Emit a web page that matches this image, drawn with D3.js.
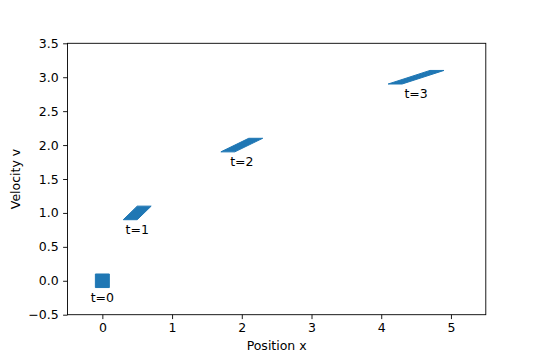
<!DOCTYPE html>
<html>
<head>
<meta charset="utf-8">
<script src="https://cdn.jsdelivr.net/npm/d3@7"></script>
<style>
  html, body { margin: 0; padding: 0; background: #fff; }
  svg { display: block; font-family: "DejaVu Sans", sans-serif; }
</style>
</head>
<body>
<svg id="chart" width="540" height="360"></svg>
<script>
// ---- data ----
const times = [0, 1, 2, 3];
const labels = ["t=0", "t=1", "t=2", "t=3"];
// polygon corners (position x, velocity v) for each time
const polyX = [
  [-0.1, 0.1, 0.1, -0.1],
  [0.3, 0.5, 0.7, 0.5],
  [1.7, 1.9, 2.3, 2.1],
  [4.1, 4.3, 4.9, 4.7]
];
const polyV = [
  [-0.1, -0.1, 0.1, 0.1],
  [0.9, 0.9, 1.1, 1.1],
  [1.9, 1.9, 2.1, 2.1],
  [2.9, 2.9, 3.1, 3.1]
];
const centerX = [0, 0.5, 2, 4.5];
const centerV = [0, 1, 2, 3];
const xTicks = [0, 1, 2, 3, 4, 5];
const yTicks = [-0.5, 0.0, 0.5, 1.0, 1.5, 2.0, 2.5, 3.0, 3.5];

// ---- layout ----
const mLeft = 67.5, mRight = 485.8, mTop = 43.3, mBottom = 314.7;
const svg = d3.select("#chart");
const x = d3.scaleLinear().domain([-0.5, 5.5]).range([mLeft, mRight]);
const y = d3.scaleLinear().domain([-0.5, 3.5]).range([mBottom, mTop]);

// polygons
const g = svg.append("g");
times.forEach((t, i) => {
  const pts = polyX[i].map((px, j) => [x(px), y(polyV[i][j])]);
  g.append("polygon")
    .attr("points", pts.map(p => p.join(",")).join(" "))
    .attr("fill", "#1f77b4")
    .attr("stroke", "#1f77b4")
    .attr("stroke-width", 1);
  g.append("text")
    .attr("x", x(centerX[i]))
    .attr("y", y(centerV[i] - 0.31))
    .attr("text-anchor", "middle")
    .attr("font-size", "12.5px")
    .attr("fill", "#000")
    .text(labels[i]);
});

// axes
const fmtY = d => d3.format(".1f")(d).replace("-", "\u2212");
const xAxis = d3.axisBottom(x).tickValues(xTicks).tickFormat(d3.format("d"))
  .tickSizeInner(4.4).tickSizeOuter(0).tickPadding(4.4);
const yAxis = d3.axisLeft(y).tickValues(yTicks).tickFormat(fmtY)
  .tickSizeInner(4.4).tickSizeOuter(0).tickPadding(4.4);

const gx = svg.append("g").attr("transform", `translate(0,${mBottom})`).call(xAxis);
const gy = svg.append("g").attr("transform", `translate(${mLeft},0)`).call(yAxis);
[gx, gy].forEach(a => {
  a.select(".domain").remove();
  a.selectAll("line").attr("stroke", "#000").attr("stroke-width", 0.9);
  a.selectAll("text").attr("font-size", "12.5px").attr("fill", "#000")
    .attr("font-family", "DejaVu Sans, sans-serif");
});

// frame
svg.append("rect")
  .attr("x", mLeft).attr("y", mTop)
  .attr("width", mRight - mLeft).attr("height", mBottom - mTop)
  .attr("fill", "none").attr("stroke", "#000").attr("stroke-width", 0.9);

// axis labels
svg.append("text")
  .attr("x", (mLeft + mRight) / 2).attr("y", 350)
  .attr("text-anchor", "middle").attr("font-size", "12.5px")
  .text("Position x");
svg.append("text")
  .attr("transform", `translate(20,${(mTop + mBottom) / 2}) rotate(-90)`)
  .attr("text-anchor", "middle").attr("font-size", "12.5px")
  .text("Velocity v");
</script>
</body>
</html>
